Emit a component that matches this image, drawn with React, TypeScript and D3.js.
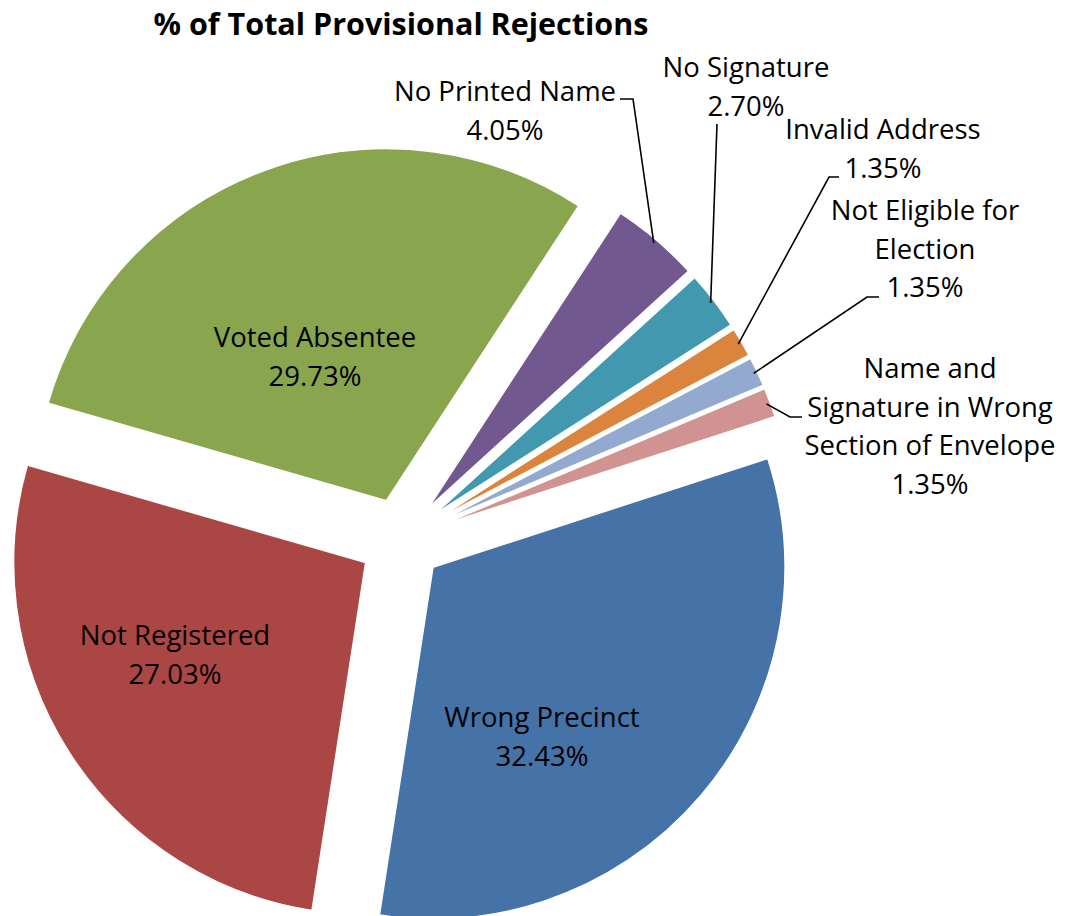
import React from "react";
import * as d3 from "d3";

const title = "% of Total Provisional Rejections";
const categories = [
  "Wrong Precinct",
  "Not Registered",
  "Voted Absentee",
  "No Printed Name",
  "No Signature",
  "Invalid Address",
  "Not Eligible for Election",
  "Name and Signature in Wrong Section of Envelope",
];
const values = [32.43, 27.03, 29.73, 4.05, 2.7, 1.35, 1.35, 1.35];
const colors = ["#4572A7", "#AA4643", "#89A54E", "#71588F", "#4198AF", "#DB843D", "#93A9CF", "#D19392"];
const labelLines = [
  ["Wrong Precinct"],
  ["Not Registered"],
  ["Voted Absentee"],
  ["No Printed Name"],
  ["No Signature"],
  ["Invalid Address"],
  ["Not Eligible for", "Election"],
  ["Name and", "Signature in Wrong", "Section of Envelope"],
];

// layout: label centre x and first baseline y; leader path anchor points (from label side)
const labelPos = [
  { x: 542, y: 727 },
  { x: 175, y: 645 },
  { x: 315, y: 347 },
  { x: 505, y: 101 },
  { x: 746, y: 77 },
  { x: 883, y: 139 },
  { x: 925, y: 220 },
  { x: 930, y: 378 },
];
const leaderStart: (number[][] | null)[] = [
  null,
  null,
  null,
  [[620, 99], [633, 99]],
  [[717, 124]],
  [[839, 177], [829, 177]],
  [[879, 297], [867, 297]],
  [[802, 417], [790, 417]],
];

const W = 1071;
const H = 916;
const CX = 401;
const CY = 540;
const R = 352;
const EXPLODE = 42;
const START = (72 * Math.PI) / 180;
const LINE_H = 38.7;
const FONT = "'Open Sans', 'Noto Sans', sans-serif";

export default function App() {
  const pie = d3
    .pie<number>()
    .sort(null)
    .startAngle(START)
    .endAngle(START + 2 * Math.PI)
    .value((d) => d);
  const arcs = pie(values);
  const arc = d3.arc<d3.PieArcDatum<number>>().innerRadius(0).outerRadius(R);
  const fmt = d3.format(".2f");

  return (
    <svg
      width={W}
      height={H}
      style={{ position: "absolute", left: 0, top: 0, display: "block", background: "#fff" }}
    >
      <text x={401} y={35} textAnchor="middle" fontFamily={FONT} fontWeight="bold" fontSize={30.5} fill="#000">
        {title}
      </text>
      {arcs.map((a, i) => {
        const mid = (a.startAngle + a.endAngle) / 2;
        const dx = CX + EXPLODE * Math.sin(mid);
        const dy = CY - EXPLODE * Math.cos(mid);
        return (
          <path
            key={categories[i]}
            d={arc(a) || ""}
            transform={`translate(${dx},${dy})`}
            fill={colors[i]}
            stroke="#fff"
            strokeWidth={1.5}
          />
        );
      })}
      {arcs.map((a, i) => {
        const pts = leaderStart[i];
        if (!pts) return null;
        const mid = (a.startAngle + a.endAngle) / 2;
        const ox = CX + (EXPLODE + R - 4) * Math.sin(mid);
        const oy = CY - (EXPLODE + R - 4) * Math.cos(mid);
        const line = d3.line()([...pts.map((p) => [p[0], p[1]] as [number, number]), [ox, oy]]);
        return <path key={"l" + i} d={line || ""} fill="none" stroke="#000" strokeWidth={1.6} />;
      })}
      {labelLines.map((lines, i) => {
        const p = labelPos[i];
        const all = [...lines, fmt(values[i]) + "%"];
        return (
          <text key={"t" + i} textAnchor="middle" fontFamily={FONT} fontSize={27.5} fill="#000">
            {all.map((s, j) => (
              <tspan key={j} x={p.x} y={p.y + j * LINE_H}>
                {s}
              </tspan>
            ))}
          </text>
        );
      })}
    </svg>
  );
}
